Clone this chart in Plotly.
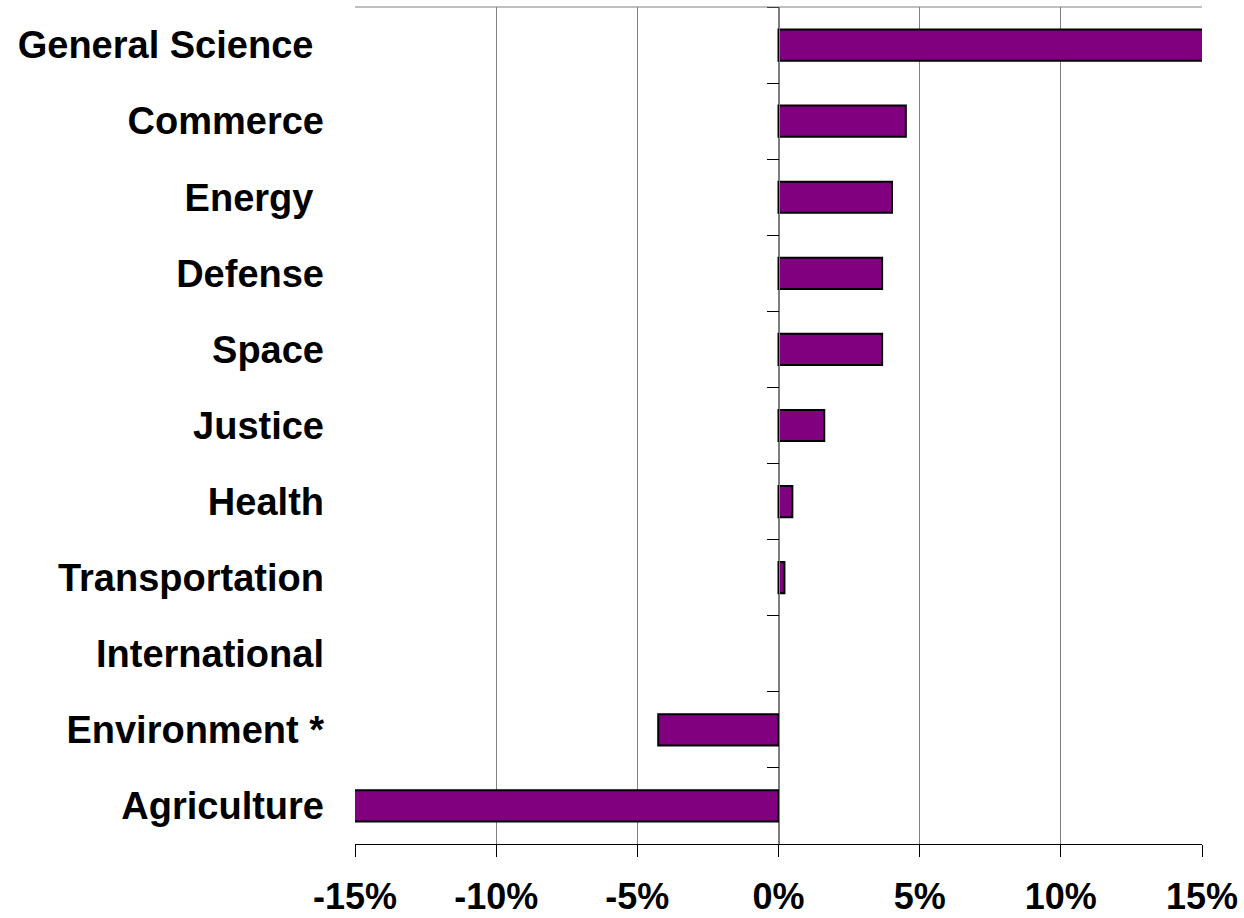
import plotly.graph_objects as go

categories = ["General Science\u00a0", "Commerce", "Energy\u00a0", "Defense", "Space",
              "Justice", "Health", "Transportation", "International",
              "Environment *", "Agriculture"]
values = [15.3, 4.51, 4.02, 3.67, 3.67, 1.62, 0.49, 0.21, 0.0, -4.26, -15.3]
x_ticks = [-15, -10, -5, 0, 5, 10, 15]
x_tick_labels = ["-15%", "-10%", "-5%", "0%", "5%", "10%", "15%"]

font_family = "Liberation Sans, Arial, sans-serif"

# no outline for zero-length bars (nothing visible in the original)
outline_widths = [2 if v != 0 else 0 for v in values]

fig = go.Figure()
fig.add_trace(go.Bar(
    x=values, y=categories, orientation="h",
    marker=dict(color="#800080", line=dict(color="black", width=outline_widths)),
    width=0.41, showlegend=False, hoverinfo="x+y",
    xaxis="x", yaxis="y",
))
# invisible trace to carry the category axis drawn at 0%
fig.add_trace(go.Scatter(
    x=[0] * len(categories), y=categories, mode="markers",
    marker=dict(opacity=0), showlegend=False, hoverinfo="skip",
    xaxis="x", yaxis="y2",
))

fig.update_layout(
    width=1244, height=918,
    margin=dict(l=355, r=42, t=7, b=74),
    paper_bgcolor="white", plot_bgcolor="white",
    xaxis=dict(
        range=[-15, 15], tickvals=x_ticks, ticktext=x_tick_labels,
        showgrid=True, gridcolor="#808080", gridwidth=1,
        zeroline=False, showline=True, linecolor="black", linewidth=1,
        ticks="outside", ticklen=12, tickcolor="black", tickwidth=1,
        tickfont=dict(family=font_family, size=36, color="black", weight="bold"),
        ticklabelstandoff=9, automargin=False,
    ),
    yaxis=dict(
        type="category", categoryorder="array", categoryarray=categories[::-1],
        range=[-0.5, len(categories) - 0.5], autorange=False,
        showgrid=False, zeroline=False, showline=False, ticks="",
        tickfont=dict(family=font_family, size=38, color="black", weight="bold"),
        ticklabelstandoff=30, automargin=False,
    ),
    yaxis2=dict(
        type="category", categoryorder="array", categoryarray=categories[::-1],
        range=[-0.5, len(categories) - 0.5], autorange=False,
        overlaying="y", anchor="free", position=0.5, side="left",
        showgrid=False, zeroline=False, showline=True, linecolor="#808080", linewidth=1,
        ticks="outside", tickson="boundaries", ticklen=12, tickcolor="black", tickwidth=1,
        showticklabels=False, automargin=False,
    ),
    bargap=0.59,
    shapes=[dict(type="line", xref="paper", yref="paper", x0=0, x1=1, y0=1, y1=1,
                 line=dict(color="#808080", width=1))],
)

fig.write_html("out.html", config={"displayModeBar": False},
               post_script="document.body.style.margin='0';document.body.style.overflow='hidden';")
